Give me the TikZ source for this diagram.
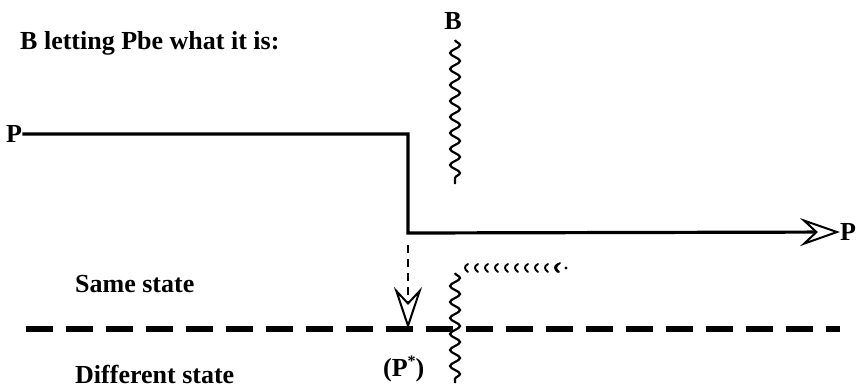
\documentclass[tikz,border=0pt]{standalone}
\usepackage{fontspec}
\setmainfont{Liberation Serif}
\usetikzlibrary{arrows.meta,decorations.pathmorphing}
\begin{document}
\begin{tikzpicture}[x=1pt,y=-1pt,
  lbl/.style={font=\bfseries\fontsize{26}{28}\selectfont, inner sep=0pt},
  mainline/.style={line width=3.2pt},
  wavy/.style={line width=2.2pt, decorate, decoration={snake, segment length=16pt, amplitude=5pt}},
  opentip/.style={-{Stealth[fill=white, length=#1, width=28pt, inset=15pt, line width=2pt]}},
  curl/.style={line width=1.9pt, line cap=round}]
\useasboundingbox (0,0) rectangle (858,389);

% texts
\node[lbl, anchor=base west] (title) at (20,49) {B letting Pbe what it is:};
\node[lbl, anchor=base] (Blab) at (453,29) {B};
\node[lbl, anchor=west] (Pl) at (6,134) {P};
\node[lbl, anchor=west] (Pr) at (840,232) {P};
\node[lbl, anchor=base west] (same) at (75,292) {Same state};
\node[lbl, anchor=base west] (diff) at (75,383) {Different state};
\node[lbl, anchor=base west] (pstar) at (383,376) {(P\raisebox{0.35em}{\fontsize{16}{16}\selectfont *})};

% boundary wavy lines
\draw[wavy] (455,40) -- (455,184);
\draw[wavy] (455,273) -- (455,383);

% state separator
\coordinate (h0) at (26,329);
\coordinate (h1) at (840,329);
\draw[line width=6.5pt, dash pattern=on 27pt off 13pt] (h0) -- (h1);

% main path
\coordinate (c1) at (408,134);
\coordinate (c2) at (408,233);
\draw[mainline, opentip=40pt] (Pl) -- (c1) -- (c2) -- (Pr);

% dashed drop
\coordinate (dtip) at (408,329);
\draw[line width=2.4pt, dash pattern=on 8pt off 6pt, shorten <=12pt, opentip=42pt] (c2) -- (dtip);

% curl row
\foreach \i in {0,...,9} {
  \pgfmathsetmacro{\cx}{465+10*\i}
  \draw[curl] (\cx+3,264) .. controls (\cx-1,266) and (\cx-1,269) .. (\cx+3,272);
}
\draw[curl] (560,263) .. controls (555,266) and (555,269) .. (559,272);
\fill (566,268) circle (1.7pt);
\end{tikzpicture}
\end{document}
